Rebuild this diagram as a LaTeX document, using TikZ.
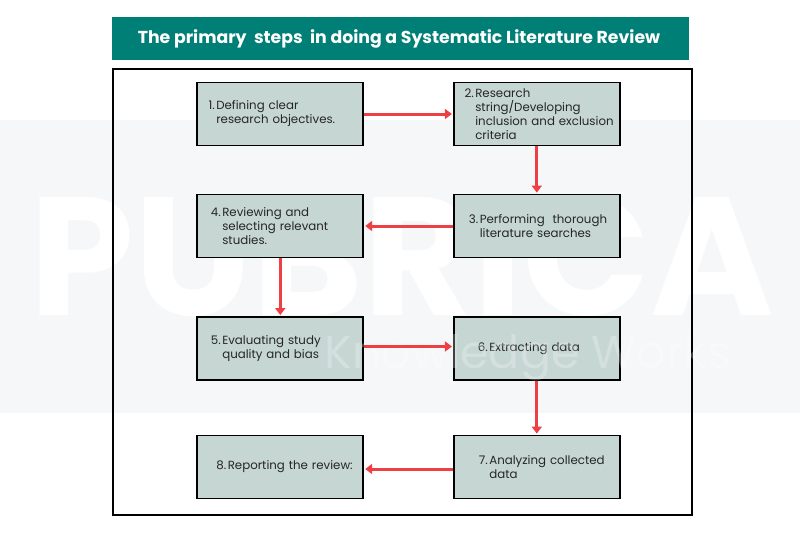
\documentclass[tikz,border=0pt]{standalone}
\usepackage{fontspec}
\usepackage{tikz}
\usetikzlibrary{arrows.meta}
\setmainfont{Poppins}

\definecolor{titleteal}{HTML}{007F77}
\definecolor{boxgrey}{HTML}{C5D6D3}
\definecolor{bandgrey}{HTML}{F6F7F8}
\definecolor{linkred}{HTML}{EE4044}

\tikzset{
	stepbox/.style={shape=rectangle,draw=black,line width=1.8pt,fill=boxgrey,minimum width=166pt,minimum height=63pt,text width=161pt,inner xsep=2pt,inner ysep=0pt,align=left,font=\fontsize{11.8pt}{14pt}\selectfont,text=black!85},
	link/.style={-{Triangle[length=7pt,width=10pt]},line width=3pt,draw=linkred,shorten >=1pt},
}
\newcommand{\num}[2]{\hspace*{#1}\llap{#2\hspace{1.5pt}}}

\begin{document}
\begin{tikzpicture}[x=1pt,y=-1pt]

	\useasboundingbox (0,0) rectangle (800,533);

	\fill[bandgrey] (0,120) rectangle (800,413);
	\node[text=white,font=\fontsize{168pt}{168pt}\selectfont\bfseries,anchor=center] (mark) at (402,256) {PUBRICA};

	\node[shape=rectangle,fill=titleteal,text=white,minimum width=577pt,minimum height=43pt,font=\fontsize{17.3pt}{20pt}\selectfont\bfseries] (title) at (400.5,38.5) {\hspace*{-3pt}The primary\ \ steps\ \ in doing a Systematic Literature Review};
	\node[shape=rectangle,draw=black,line width=1.3pt,minimum width=579pt,minimum height=446pt] (frame) at (402.5,292) {};

	\node[stepbox] (s1) at (280.3,114)   {\num{16.5pt}{1.}Defining clear\\\num{16.5pt}{}research objectives.};
	\node[stepbox] (s2) at (536.8,114)   {\num{19pt}{2.}Research\\\num{19pt}{}string/Developing\\\num{19pt}{}inclusion and exclusion\\\num{19pt}{}criteria};
	\node[stepbox] (s3) at (536.8,226)   {\num{23.5pt}{3.}Performing\ \ thorough\\\num{23.5pt}{}literature searches};
	\node[stepbox] (s4) at (280.3,226)   {\num{22.5pt}{4.}Reviewing and\\\num{22.5pt}{}selecting relevant\\\num{22.5pt}{}studies.};
	\node[stepbox] (s5) at (280.3,348.5) {\num{22.5pt}{5.}Evaluating study\\\num{22.5pt}{}quality and bias};
	\node[stepbox] (s6) at (536.8,348.5) {\num{33pt}{6.}Extracting data};
	\node[stepbox] (s7) at (536.8,467)   {\num{33pt}{7.}Analyzing collected\\\num{33pt}{}data};
	\node[stepbox] (s8) at (280.3,467)   {\num{28pt}{8.}Reporting the review:};

	\node[text=white,opacity=0.25,font=\fontsize{46pt}{46pt}\selectfont,anchor=center] (works) at (528,358) {Knowledge Works};

	\path (s1) edge[link] (s2);
	\path (s2) edge[link] (s3);
	\path (s3) edge[link] (s4);
	\path (s4) edge[link] (s5);
	\path ([yshift=2pt]s5.east) edge[link] ([yshift=2pt]s6.west);
	\path (s6) edge[link] (s7);
	\path ([yshift=-2pt]s7.west) edge[link] ([yshift=-2pt]s8.east);

\end{tikzpicture}
\end{document}
